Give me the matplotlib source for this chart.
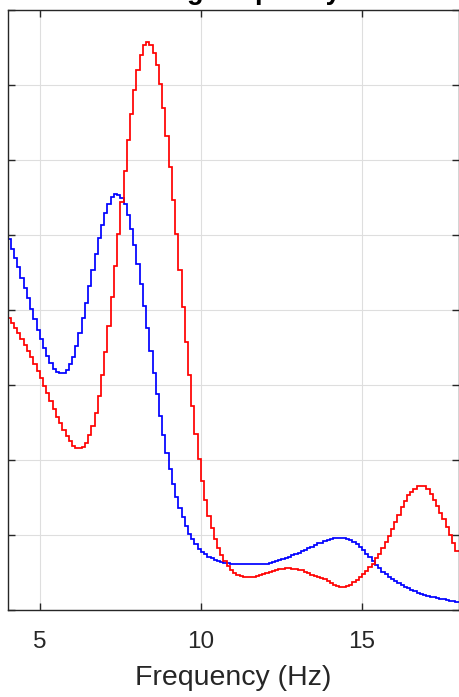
import numpy as np
import matplotlib
matplotlib.use("Agg")
import matplotlib.pyplot as plt

plt.rcParams['font.family'] = ['Liberation Sans', 'DejaVu Sans']

# Frequency bin edges (Hz), 0.1 Hz bins from 4 to 18
freq_start = 4.0
freq_stop = 18.0
freq_step = 0.1

blue_values = [
    4.94, 4.82, 4.70, 4.57, 4.43, 4.30, 4.16, 4.01, 3.88, 3.74,
    3.61, 3.49, 3.39, 3.30, 3.22, 3.17, 3.16, 3.16, 3.20, 3.28,
    3.38, 3.52, 3.70, 3.90, 4.10, 4.32, 4.54, 4.75, 4.96, 5.14,
    5.30, 5.42, 5.51, 5.55, 5.54, 5.49, 5.41, 5.27, 5.08, 4.87,
    4.62, 4.35, 4.06, 3.76, 3.46, 3.16, 2.88, 2.59, 2.33, 2.10,
    1.88, 1.68, 1.51, 1.36, 1.24, 1.12, 1.02, 0.95, 0.88, 0.82,
    0.780, 0.747, 0.713, 0.689, 0.669, 0.653, 0.640, 0.631, 0.624, 0.620,
    0.616, 0.613, 0.612, 0.611, 0.609, 0.609, 0.609, 0.609, 0.611, 0.613,
    0.620, 0.629, 0.640, 0.653, 0.667, 0.680, 0.695, 0.711, 0.728, 0.745,
    0.764, 0.787, 0.805, 0.823, 0.845, 0.867, 0.887, 0.900, 0.920, 0.933,
    0.947, 0.957, 0.963, 0.964, 0.957, 0.947, 0.933, 0.909, 0.880, 0.844,
    0.803, 0.753, 0.703, 0.653, 0.603, 0.556, 0.513, 0.476, 0.444, 0.415,
    0.384, 0.356, 0.332, 0.309, 0.289, 0.269, 0.249, 0.231, 0.215, 0.200,
    0.189, 0.180, 0.169, 0.160, 0.151, 0.143, 0.133, 0.125, 0.116, 0.107,
]

red_values = [
    3.90, 3.83, 3.76, 3.69, 3.61, 3.53, 3.45, 3.37, 3.28, 3.19,
    3.09, 2.99, 2.89, 2.79, 2.68, 2.58, 2.49, 2.40, 2.32, 2.25,
    2.19, 2.16, 2.16, 2.18, 2.23, 2.33, 2.45, 2.63, 2.85, 3.13,
    3.44, 3.79, 4.18, 4.59, 5.01, 5.44, 5.86, 6.27, 6.62, 6.93,
    7.20, 7.40, 7.53, 7.57, 7.53, 7.43, 7.27, 7.01, 6.69, 6.32,
    5.91, 5.47, 5.01, 4.53, 4.04, 3.58, 3.13, 2.72, 2.35, 2.01,
    1.72, 1.47, 1.26, 1.09, 0.95, 0.83, 0.73, 0.653, 0.587, 0.533,
    0.497, 0.467, 0.449, 0.440, 0.436, 0.437, 0.444, 0.453, 0.467, 0.480,
    0.493, 0.507, 0.520, 0.533, 0.543, 0.549, 0.555, 0.556, 0.553, 0.547,
    0.540, 0.527, 0.509, 0.489, 0.473, 0.459, 0.444, 0.427, 0.407, 0.383,
    0.360, 0.340, 0.323, 0.313, 0.311, 0.320, 0.340, 0.367, 0.400, 0.440,
    0.480, 0.520, 0.567, 0.620, 0.687, 0.753, 0.827, 0.907, 0.993, 1.080,
    1.173, 1.273, 1.367, 1.453, 1.527, 1.580, 1.620, 1.647, 1.657, 1.647,
    1.607, 1.547, 1.467, 1.387, 1.300, 1.207, 1.107, 1.000, 0.893, 0.787,
]

x_ticks = [5, 10, 15]
x_tick_labels = ["5", "10", "15"]
y_ticks = [0, 1, 2, 3, 4, 5, 6, 7, 8]

title_text = "Driving frequency"
x_label = "Frequency (Hz)"

n_bins = len(blue_values)
edges = np.round(freq_start + freq_step * np.arange(n_bins + 1), 2)

W, H = 459, 697
fig = plt.figure(figsize=(W / 100, H / 100), dpi=100)
ax = fig.add_axes([7.6 / W, (H - 610) / H, (458.6 - 7.6) / W, 600 / H])

ax.stairs(blue_values, edges, baseline=None, color=(0, 0, 1), linewidth=1.25)
ax.stairs(red_values, edges, baseline=None, color=(1, 0, 0), linewidth=1.25)

ax.set_xlim(freq_start, freq_stop)
ax.set_ylim(y_ticks[0], y_ticks[-1])
ax.set_xticks(x_ticks)
ax.set_xticklabels(x_tick_labels)
ax.set_yticks(y_ticks)
ax.set_yticklabels([])

dark = (0.15, 0.15, 0.15)
ax.grid(True, color='#dedede', linewidth=0.8)
ax.set_axisbelow(True)
for s in ax.spines.values():
    s.set_color(dark)
    s.set_linewidth(1.0)
ax.tick_params(direction='in', length=5, width=1.0, color=dark,
               top=True, right=True, labelsize=17.5, labelcolor=dark, pad=15)

ax.set_xlabel(x_label, fontsize=20.5, color=dark, labelpad=9)
fig.text(0.49, 1 + 1.0 / H, title_text, ha='center', va='baseline',
         fontsize=19.5, fontweight='bold', color='black')

fig.savefig("out.png", dpi=100)
